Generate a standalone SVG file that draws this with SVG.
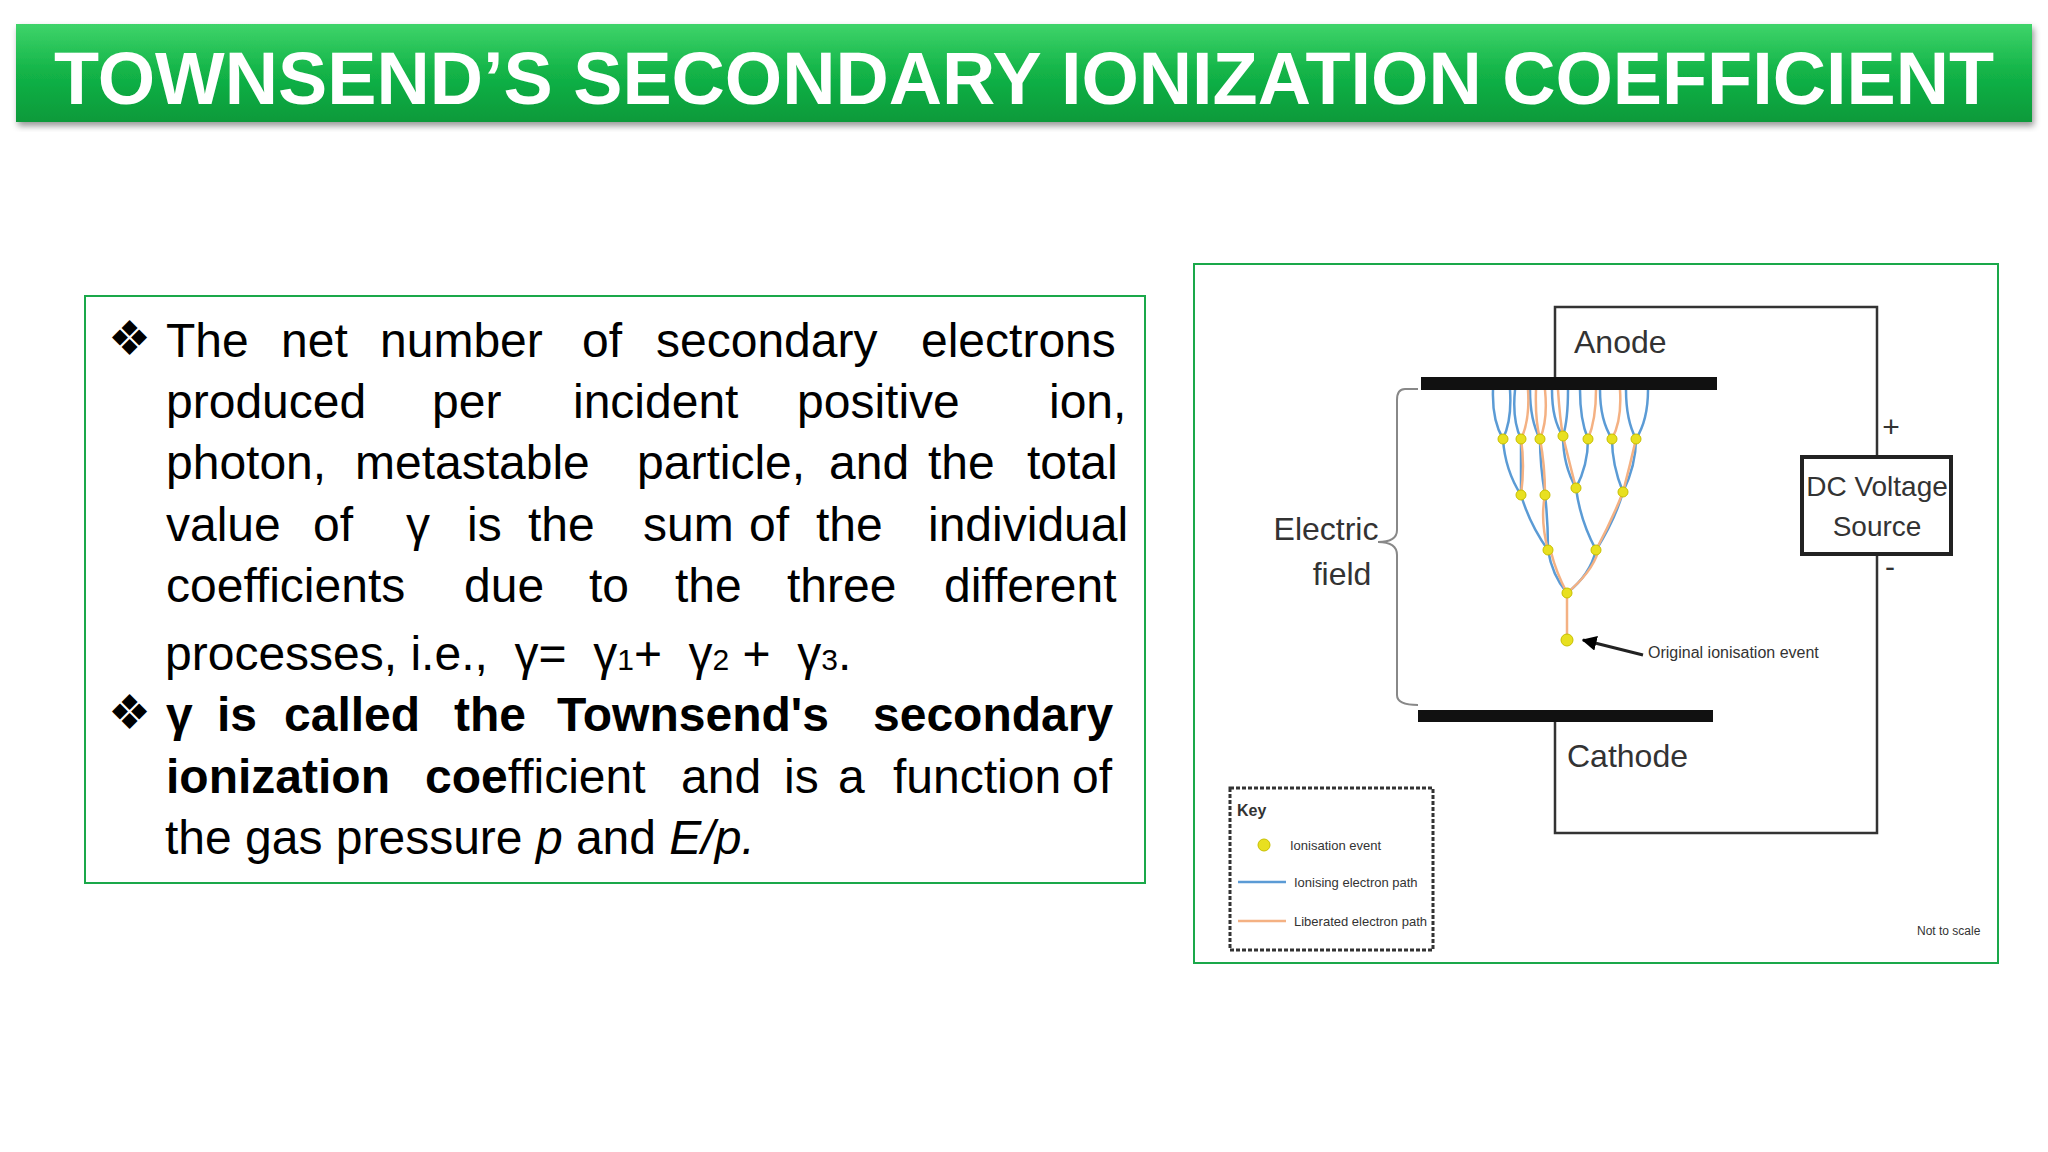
<svg xmlns="http://www.w3.org/2000/svg" width="2048" height="1152" viewBox="0 0 2048 1152">
<defs>
<linearGradient id="g" x1="0" y1="0" x2="0" y2="1"><stop offset="0" stop-color="#3fd46a"/><stop offset="0.5" stop-color="#12b347"/><stop offset="1" stop-color="#0c9a3a"/></linearGradient>
<filter id="sh"><feDropShadow dx="2" dy="4" stdDeviation="3" flood-opacity="0.4"/></filter>
<marker id="ar" viewBox="0 0 10 10" refX="9" refY="5" markerWidth="5" markerHeight="5" orient="auto"><path d="M0,0L10,5L0,10z" fill="#000"/></marker>
</defs>
<style>
.t{font-family:"Liberation Sans",Arial,sans-serif;font-size:48px;fill:#000}
.d{font-family:"Liberation Sans Narrow","Liberation Sans",sans-serif;fill:#333}
.b{stroke:#5b9bd5;stroke-width:2.5;fill:none}
.o{stroke:#f4b183;stroke-width:2.5;fill:none}
.n{fill:#e8e020;stroke:#c8c000}
.w{stroke:#333;stroke-width:2.5;fill:none}
</style>
<rect width="2048" height="1152" fill="#fff"/>
<g id="title">
<rect x="16" y="24" width="2016" height="98" fill="url(#g)" filter="url(#sh)"/>
<text x="1024" y="104" text-anchor="middle" font-family="Liberation Sans,Arial,sans-serif" font-weight="bold" font-size="74" fill="#fff" textLength="1940" lengthAdjust="spacingAndGlyphs">TOWNSEND’S SECONDARY IONIZATION COEFFICIENT</text>
</g>
<g id="textbox">
<rect x="85" y="296" width="1060" height="587" fill="#fff" stroke="#1aa84a" stroke-width="2"/>
<text class="t" x="108" y="355" font-family="DejaVu Sans" font-size="36">❖</text>
<text class="t" x="108" y="729" font-family="DejaVu Sans" font-size="36">❖</text>
<text class="t" y="357"><tspan x="166">The</tspan><tspan x="281">net</tspan><tspan x="380">number</tspan><tspan x="582">of</tspan><tspan x="656">secondary</tspan><tspan x="921">electrons</tspan></text>
<text class="t" y="418"><tspan x="166">produced</tspan><tspan x="432">per</tspan><tspan x="573">incident</tspan><tspan x="797">positive</tspan><tspan x="1049">ion,</tspan></text>
<text class="t" y="479"><tspan x="166">photon,</tspan><tspan x="355">metastable</tspan><tspan x="637">particle,</tspan><tspan x="829">and</tspan><tspan x="928">the</tspan><tspan x="1027">total</tspan></text>
<text class="t" y="541"><tspan x="166">value</tspan><tspan x="313">of</tspan><tspan x="406">γ</tspan><tspan x="467">is</tspan><tspan x="528">the</tspan><tspan x="643">sum</tspan><tspan x="749">of</tspan><tspan x="816">the</tspan><tspan x="928">individual</tspan></text>
<text class="t" y="602"><tspan x="166">coefficients</tspan><tspan x="464">due</tspan><tspan x="589">to</tspan><tspan x="675">the</tspan><tspan x="787">three</tspan><tspan x="944">different</tspan></text>
<text class="t" x="165" y="670" xml:space="preserve">processes, i.e.,  γ=  γ<tspan font-size="30">1</tspan>+  γ<tspan font-size="30">2</tspan> +  γ<tspan font-size="30">3</tspan>.</text>
<text class="t" y="731" font-weight="bold"><tspan x="166">γ</tspan><tspan x="217">is</tspan><tspan x="284">called</tspan><tspan x="454">the</tspan><tspan x="557">Townsend's</tspan><tspan x="873">secondary</tspan></text>
<text class="t" y="793"><tspan x="166" font-weight="bold">ionization</tspan><tspan x="425" font-weight="bold">coe</tspan><tspan>fficient</tspan><tspan x="681">and</tspan><tspan x="784">is</tspan><tspan x="838">a</tspan><tspan x="893">function</tspan><tspan x="1072">of</tspan></text>
<text class="t" x="165" y="854">the gas pressure <tspan font-style="italic">p</tspan> and <tspan font-style="italic">E/p.</tspan></text>
</g>
<g id="diagram">
<rect x="1194" y="264" width="804" height="699" fill="#fff" stroke="#1aa84a" stroke-width="2"/>
<path class="w" d="M1555,383V307H1877V457M1877,554V833H1555V716"/>
<rect x="1802" y="457" width="149" height="97" fill="#fff" stroke="#222" stroke-width="4"/>
<text class="d" x="1877" y="496" font-size="28" text-anchor="middle">DC Voltage</text>
<text class="d" x="1877" y="536" font-size="28" text-anchor="middle">Source</text>
<text class="d" x="1891" y="437" font-size="30" text-anchor="middle">+</text>
<text class="d" x="1890" y="577" font-size="30" text-anchor="middle">-</text>
<rect x="1421" y="377" width="296" height="13" fill="#111"/>
<rect x="1418" y="710" width="295" height="12" fill="#111"/>
<text class="d" x="1574" y="353" font-size="32">Anode</text>
<text class="d" x="1567" y="767" font-size="32">Cathode</text>
<path d="M1418,389H1405Q1397,389 1397,400V530Q1397,542 1378,542Q1397,542 1397,555V695Q1397,705 1418,705" stroke="#888" stroke-width="2" fill="none"/>
<text class="d" x="1326" y="540" font-size="32" text-anchor="middle">Electric</text>
<text class="d" x="1342" y="585" font-size="32" text-anchor="middle">field</text>
<g id="tree">
<path class="o" d="M1567,640V593"/>
<path class="b" d="M1567,593Q1552,575 1548,550M1567,593Q1590,575 1596,550M1548,550Q1530,525 1521,495M1548,550Q1548,520 1545,495M1596,550Q1580,520 1576,488M1596,550Q1615,520 1623,492"/>
<path class="o" d="M1567,593Q1556,572 1551,552M1567,593Q1592,572 1598,552M1548,550Q1540,520 1545,495M1596,550Q1612,520 1623,492"/>
<path class="b" d="M1521,495Q1505,470 1503,439M1521,495Q1521,465 1521,439M1545,495Q1540,465 1540,439M1576,488Q1563,465 1563,436M1576,488Q1588,465 1588,439M1623,492Q1612,465 1612,439M1623,492Q1636,465 1636,439"/>
<path class="o" d="M1521,495Q1525,465 1521,439M1545,495Q1545,465 1540,439M1576,488Q1570,465 1563,436M1623,492Q1630,465 1636,439"/>
<path class="b" d="M1503,439Q1492,420 1493,390M1503,439Q1512,420 1510,390M1521,439Q1512,420 1515,390M1540,439Q1530,420 1530,390M1563,436Q1552,420 1552,390M1563,436Q1568,420 1568,390M1588,439Q1580,420 1580,390M1612,439Q1600,420 1600,390M1636,439Q1626,420 1626,390M1636,439Q1648,420 1648,390"/>
<path class="o" d="M1521,439Q1530,420 1528,390M1540,439Q1548,420 1545,390M1563,436Q1560,420 1558,390M1588,439Q1596,420 1596,390M1612,439Q1622,420 1620,390M1540,439Q1535,420 1536,390"/>
<g class="n">
<circle cx="1567" cy="640" r="6"/><circle cx="1567" cy="593" r="5"/>
<circle cx="1548" cy="550" r="5"/><circle cx="1596" cy="550" r="5"/>
<circle cx="1521" cy="495" r="5"/><circle cx="1545" cy="495" r="5"/><circle cx="1576" cy="488" r="5"/><circle cx="1623" cy="492" r="5"/>
<circle cx="1503" cy="439" r="5"/><circle cx="1521" cy="439" r="5"/><circle cx="1540" cy="439" r="5"/><circle cx="1563" cy="436" r="5"/><circle cx="1588" cy="439" r="5"/><circle cx="1612" cy="439" r="5"/><circle cx="1636" cy="439" r="5"/>
</g>
</g>
<path d="M1643,655L1583,640" stroke="#222" stroke-width="3" marker-end="url(#ar)"/>
<text class="d" x="1648" y="658" font-size="16">Original ionisation event</text>
<rect x="1230" y="788" width="203" height="162" fill="none" stroke="#333" stroke-width="3" stroke-dasharray="4,2"/>
<text class="d" x="1237" y="816" font-size="16" font-weight="bold">Key</text>
<circle cx="1264" cy="845" r="6" class="n"/>
<text class="d" x="1290" y="850" font-size="13" fill="#777">Ionisation event</text>
<line x1="1238" y1="882" x2="1286" y2="882" class="b"/>
<text class="d" x="1294" y="887" font-size="13" fill="#777">Ionising electron path</text>
<line x1="1238" y1="921" x2="1286" y2="921" class="o"/>
<text class="d" x="1294" y="926" font-size="13" fill="#777">Liberated electron path</text>
<text class="d" x="1917" y="935" font-size="12" fill="#777">Not to scale</text>
</g>
</svg>
